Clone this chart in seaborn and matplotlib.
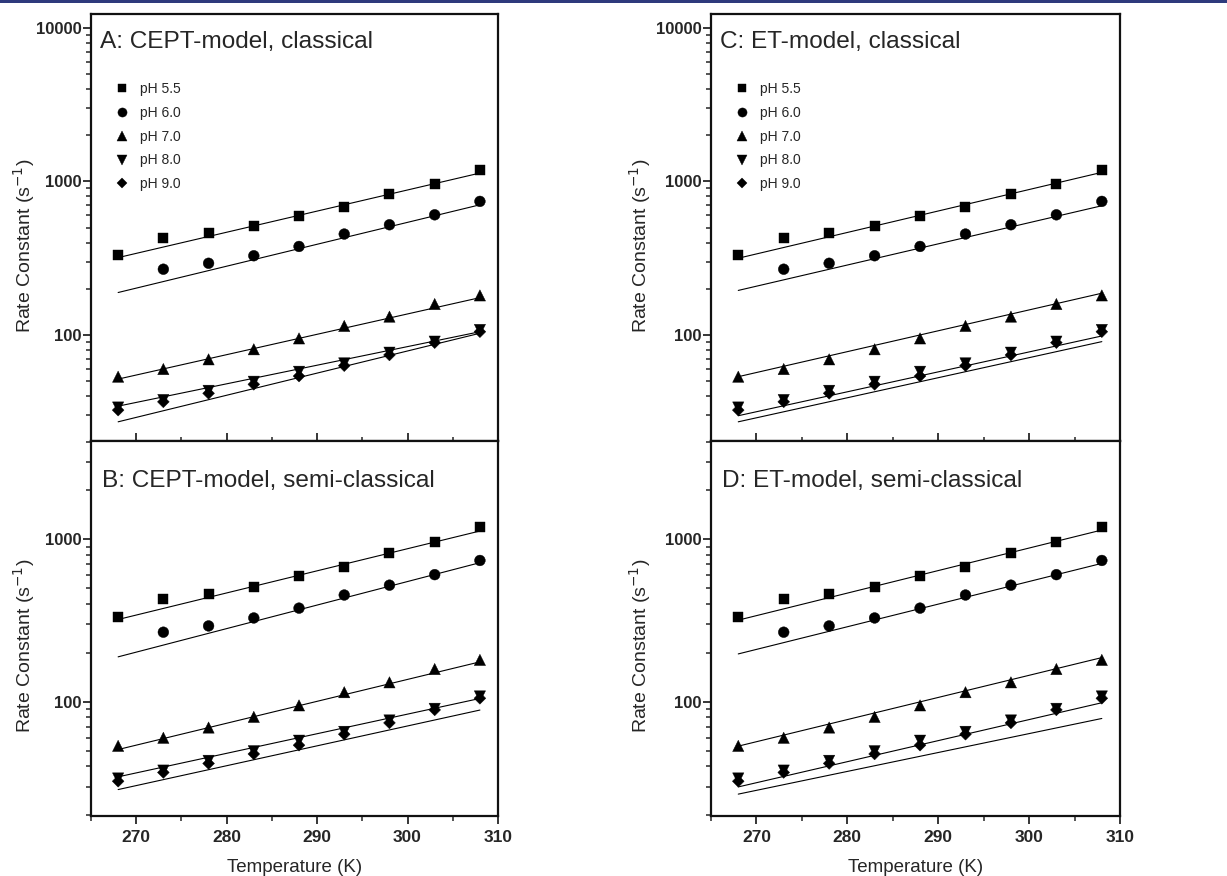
import numpy as np
import pandas as pd
import matplotlib
matplotlib.use("Agg")
import matplotlib.pyplot as plt
import seaborn as sns
from matplotlib.ticker import LogLocator, FuncFormatter, MultipleLocator, NullFormatter

sns.set_style("ticks")
plt.rcParams['font.family'] = ['Liberation Sans', 'DejaVu Sans']

# измеренные константы скорости (одинаковые на всех панелях)
temps = [268, 273, 278, 283, 288, 293, 298, 303, 308]
ph_labels = ["pH 5.5", "pH 6.0", "pH 7.0", "pH 8.0", "pH 9.0"]
k_ph55 = [333, 427, 460, 509, 591, 677, 827, 967, 1191]
k_ph60 = [np.nan, 268, 293, 328, 377, 454, 522, 606, 741]
k_ph70 = [53.5, 60, 69.4, 80.7, 95, 114.5, 131.7, 159, 181]
k_ph80 = [33.7, 37.7, 43.3, 49.6, 57.6, 65.3, 76.7, 90.5, 107.8]
k_ph90 = [32.4, 36.7, 41.7, 47.7, 54.0, 63.1, 74.1, 89.1, 105]

# модельные кривые: значения на концах (268 K и 308 K)
fit_T = [268, 308]
fit_A = [[319, 1133], [189, 704], [51.6, 175], [34.4, 105], [27.2, 102.6]]
fit_B = [[321, 1125], [189, 718], [50.8, 176], [34.5, 104.8], [28.8, 88.9]]
fit_C = [[316, 1145], [195, 694], [53.5, 187], [29.8, 98.5], [27.2, 90.5]]
fit_D = [[318, 1141], [197, 711], [53.3, 187], [29.9, 98.6], [27.0, 78.9]]

titles = ["A: CEPT-model, classical", "B: CEPT-model, semi-classical",
          "C: ET-model, classical", "D: ET-model, semi-classical"]

rows = []
for lab, vals in zip(ph_labels, [k_ph55, k_ph60, k_ph70, k_ph80, k_ph90]):
    for t, v in zip(temps, vals):
        if not np.isnan(v):
            rows.append({"T": t, "k": v, "pH": lab})
points = pd.DataFrame(rows)
markers = dict(zip(ph_labels, ["s", "o", "^", "v", "D"]))
msizes = dict(zip(ph_labels, [52, 60, 66, 66, 36]))

fig = plt.figure(figsize=(12.27, 8.76), dpi=100)
fig.add_artist(plt.Rectangle((0, 0.9966), 1, 0.0034, transform=fig.transFigure,
                             color="#2e3a7c", lw=0))

lefts = [91 / 1227, 711 / 1227]
width = [407 / 1227, 409 / 1227]

# (колонка, верхняя?, кривые, заголовок, пределы y)
panels = [(0, True, fit_A, titles[0], (20.4, 12300)),
          (0, False, fit_B, titles[1], (19.8, 4030)),
          (1, True, fit_C, titles[2], (20.4, 12300)),
          (1, False, fit_D, titles[3], (19.8, 4030))]

for col, is_top, fits, title, ylim in panels:
    if is_top:
        ax = fig.add_axes([lefts[col], 1 - 441 / 876, width[col], 427 / 876])
    else:
        ax = fig.add_axes([lefts[col], 1 - 816 / 876, width[col], 375 / 876])

    sns.scatterplot(data=points, x="T", y="k", style="pH", markers=markers,
                    size="pH", sizes=msizes,
                    color="black", edgecolor="black", linewidth=0.3,
                    legend=is_top, ax=ax, zorder=3)
    for lab, (a, b) in zip(ph_labels, fits):
        line = pd.DataFrame({"T": fit_T, "k": [a, b]})
        sns.lineplot(data=line, x="T", y="k", color="black", lw=0.8, ax=ax)

    ax.set_yscale("log")
    ax.set_xlim(265, 310)
    ax.set_ylim(*ylim)
    ax.xaxis.set_major_locator(MultipleLocator(10))
    ax.xaxis.set_minor_locator(MultipleLocator(5))
    ax.yaxis.set_major_locator(LogLocator(base=10))
    ax.yaxis.set_minor_locator(LogLocator(base=10, subs=np.arange(2, 10)))
    ax.yaxis.set_major_formatter(FuncFormatter(lambda v, p: f"{v:.0f}"))
    ax.yaxis.set_minor_formatter(NullFormatter())

    for sp in ax.spines.values():
        sp.set_linewidth(1.6)
        sp.set_color("#111111")
    ax.tick_params(axis="y", which="major", direction="out", length=6, width=1.3,
                   labelsize=12, pad=1)
    ax.tick_params(axis="y", which="minor", direction="out", length=3.5, width=1.1)
    if is_top:
        ax.tick_params(axis="x", which="major", direction="inout", length=11, width=1.3,
                       labelbottom=False)
        ax.tick_params(axis="x", which="minor", direction="inout", length=6, width=1.1)
        ax.set_xlabel("")
    else:
        ax.tick_params(axis="x", which="major", direction="out", length=6, width=1.3,
                       labelsize=12.5, pad=4)
        ax.tick_params(axis="x", which="minor", direction="out", length=3.5, width=1.1)
        ax.set_xlabel("Temperature (K)", fontsize=13.5, labelpad=10)
    for lab in ax.get_xticklabels() + ax.get_yticklabels():
        lab.set_fontweight("bold")

    ax.set_ylabel("Rate Constant (s$^{-1}$)", fontsize=14)
    ax.yaxis.set_label_coords(-0.133 if col == 0 else -0.142,
                              0.458 if is_top else 0.455)
    ax.text(0.022 if is_top else 0.027, 0.920 if is_top else 0.877, title,
            transform=ax.transAxes, ha="left", va="baseline", fontsize=17.6)

    if is_top:
        handles, labels = ax.get_legend_handles_labels()
        ax.legend(handles, labels, loc="upper left", bbox_to_anchor=(0.045, 0.853),
                  frameon=False, fontsize=10, handlelength=1.0, handletextpad=0.8,
                  labelspacing=0.7, borderaxespad=0, markerscale=0.85)

fig.savefig("out.png", dpi=100)
